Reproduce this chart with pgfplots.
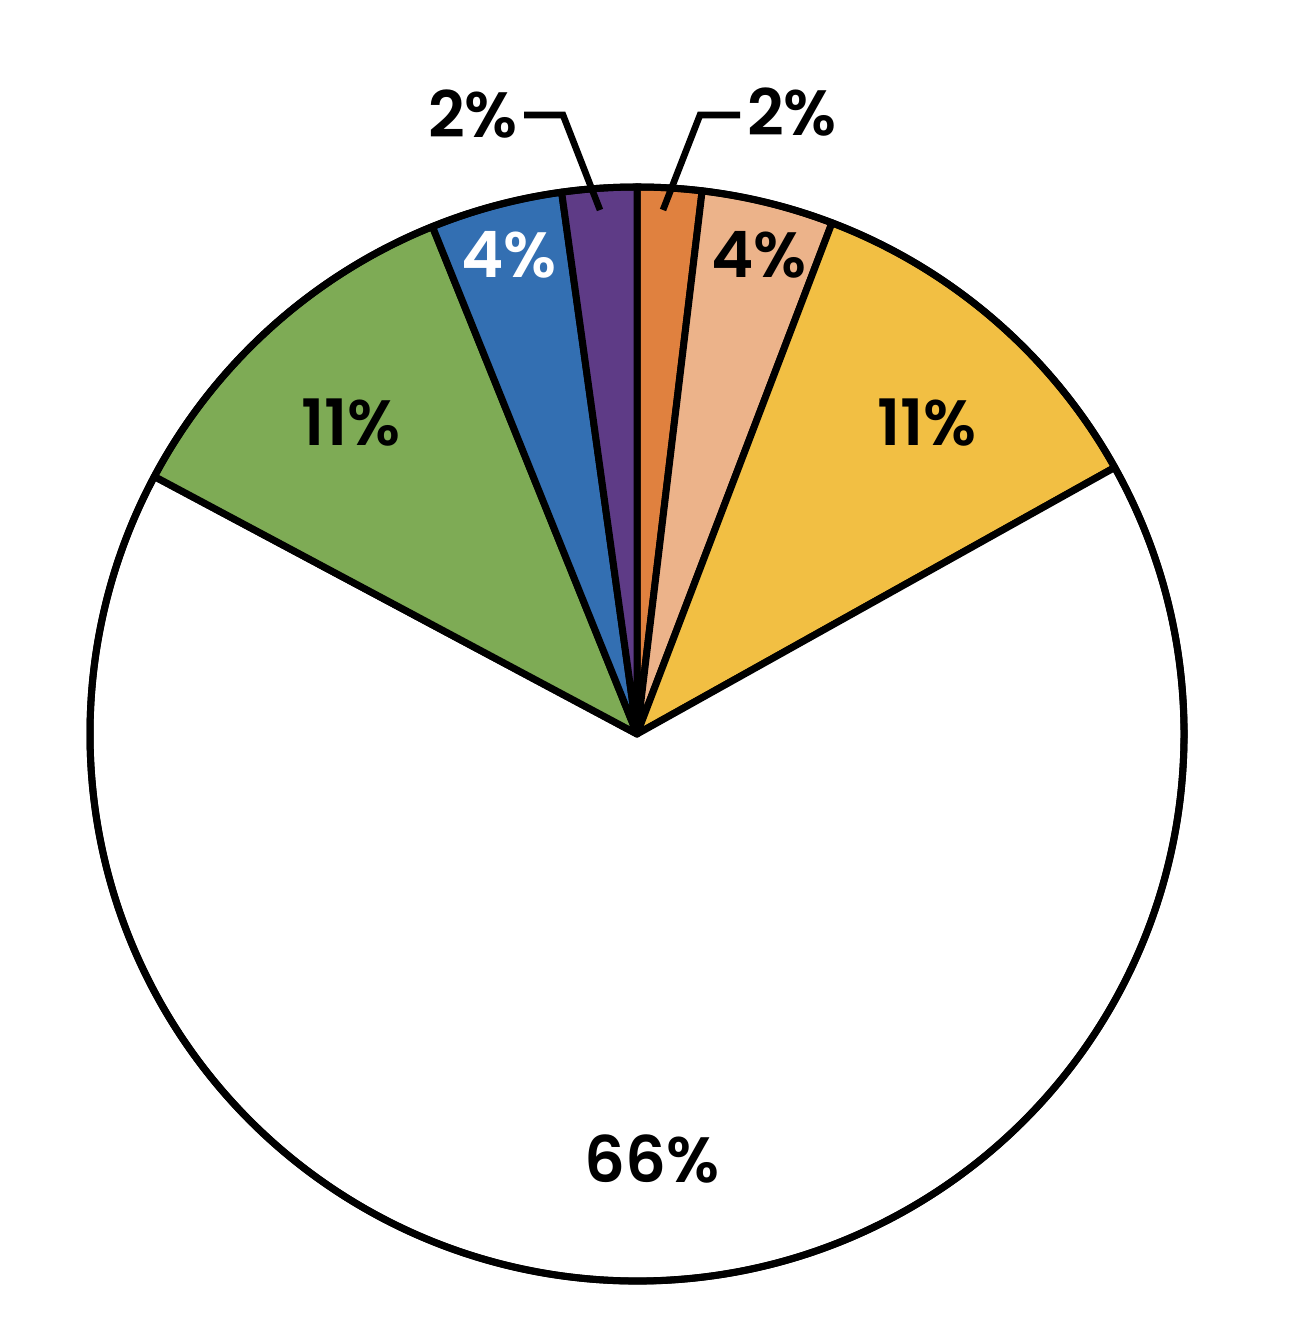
\documentclass[border=0pt]{standalone}
\usepackage{pgfplots}
\pgfplotsset{compat=1.18}
\usepackage{fontspec}
\setmainfont{Poppins}[BoldFont=* SemiBold]

\definecolor{cOrange}{HTML}{E0813F}
\definecolor{cPeach}{HTML}{ECB38A}
\definecolor{cYellow}{HTML}{F2BF43}
\definecolor{cGreen}{HTML}{7EAB55}
\definecolor{cBlue}{HTML}{336FB2}
\definecolor{cPurple}{HTML}{5E3B86}

% one axis unit = one pixel of the reference = 0.25pt
\def\R{136.75pt}   % pie radius (547 units)
\def\cum{0}
\newcommand{\slice}[2]{% share in percent, colour
  \pgfmathsetmacro\a{90-3.6*\cum}%
  \pgfmathsetmacro\b{90-3.6*(\cum+#1)}%
  \edef\doslice{\noexpand\filldraw[slice, fill=#2] (axis cs:0,0) -- ++(\a:\R)
    arc[start angle=\a, end angle=\b, radius=\R] -- cycle;}%
  \doslice
  \pgfmathsetmacro\cumnew{\cum+#1}\global\let\cum\cumnew}

\tikzset{
  slice/.style={draw=black, line width=1.75pt, line join=round},
  lab/.style={font=\fontsize{16}{19}\selectfont\bfseries, inner sep=0pt, anchor=center},
}

\begin{document}
\begin{tikzpicture}
\begin{axis}[
    name=ax,
    scale only axis,
    width=322pt, height=334.5pt,
    xmin=-637, xmax=651,
    ymin=-604, ymax=734,
    hide axis,
    clip=false,
]
  % shares, clockwise from 12 o'clock
  \slice{1.9}{cOrange}
  \slice{3.9}{cPeach}
  \slice{11.1}{cYellow}
  \slice{65.9}{white}
  \slice{11.1}{cGreen}
  \slice{3.9}{cBlue}
  \slice{2.2}{cPurple}
  \draw[line width=1.75pt] (axis cs:0,0) circle[radius=\R];

  % leader lines
  \draw[line width=1.65pt] (axis cs:-113,619) -- (axis cs:-74,619) -- (axis cs:-37,524);
  \draw[line width=1.65pt] (axis cs:26,524) -- (axis cs:63,619) -- (axis cs:103,619);

  \node[lab] at (axis cs:-164,620) {2\%};
  \node[lab] at (axis cs:155,622) {2\%};
  \node[lab, text=white] at (axis cs:-128,479) {4\%};
  \node[lab] at (axis cs:122,479) {4\%};
  \node[lab] at (axis cs:-286,311) {11\%};
  \node[lab] at (axis cs:290,311) {11\%};
  \node[lab] at (axis cs:15,-425) {66\%};
\end{axis}
\pgfresetboundingbox
\path (ax.south west) rectangle (ax.north east);
\end{tikzpicture}
\end{document}
